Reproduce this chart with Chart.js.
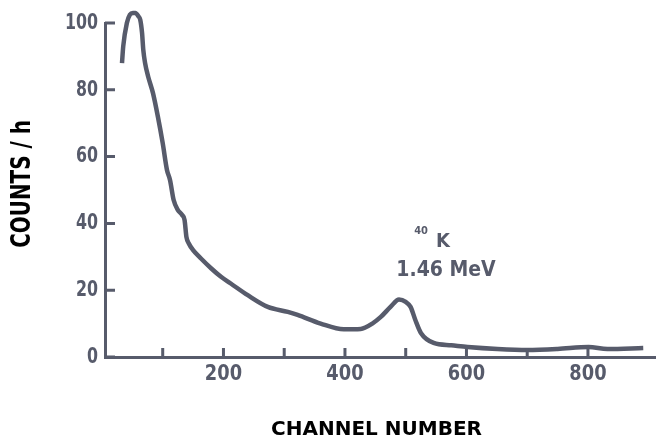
<!DOCTYPE html>
<html>
<head>
<meta charset="utf-8">
<script src="https://cdn.jsdelivr.net/npm/chart.js@4/dist/chart.umd.min.js"></script>
<style>
  html, body { margin: 0; padding: 0; background: #fff; }
  #wrap { width: 656px; height: 445px; position: relative; }
</style>
</head>
<body>
<div id="wrap"><canvas id="spectrum"></canvas></div>
<script>
// channel numbers and counts
const channels = [33, 35, 41, 46, 51, 55, 60, 63, 66, 68, 71, 76, 84, 92, 100, 107, 112, 118, 125, 132, 136, 139, 143, 150, 163, 180, 196, 212, 240, 273, 306, 322, 360, 398, 426, 445, 459, 475, 489, 500, 508, 516, 525, 546, 575, 602, 651, 700, 750, 801, 832, 891];
const counts   = [88, 93, 100, 102.5, 103, 103, 102, 101, 97, 92, 88, 84, 79, 72, 64, 56, 53, 47, 44, 42.5, 41, 36, 34, 32, 29.5, 26.5, 24, 22, 18.5, 15, 13.5, 12.6, 10, 8.3, 8.4, 10, 12, 15, 17.2, 16.5, 15, 11, 7.2, 4.2, 3.5, 3, 2.4, 2.1, 2.4, 3, 2.4, 2.7];

const xTicks = [100, 200, 300, 400, 500, 600, 700, 800];
const xTickLabels = ['', '200', '', '400', '', '600', '', '800'];
const yTicks = [0, 20, 40, 60, 80, 100];
const peakLabel = ['40', 'K', '1.46 MeV'];
const xTitle = 'CHANNEL NUMBER';
const yTitle = 'COUNTS / h';

const ink = '#575b6b';
const cond = "'DejaVu Sans Condensed', 'DejaVu Sans', sans-serif";
const wide = "'DejaVu Sans', sans-serif";

// squeezed text, the original lettering is narrower than any installed font
function narrowText(ctx, text, x, y, squeeze, angle) {
    ctx.save();
    ctx.translate(x, y);
    ctx.rotate(angle || 0);
    ctx.scale(squeeze, 1);
    ctx.fillText(text, 0, 0);
    ctx.restore();
}

// tick marks point into the plot, labels and titles drawn here too
const axisDecor = {
    id: 'axisDecor',
    afterDraw(chart) {
        const ctx = chart.ctx;
        const x = chart.scales.x, y = chart.scales.y;
        ctx.save();
        ctx.strokeStyle = ink;
        ctx.lineWidth = 3;
        ctx.beginPath();
        xTicks.forEach(v => {
            const px = x.getPixelForValue(v);
            ctx.moveTo(px, y.bottom);
            ctx.lineTo(px, y.bottom - 9);
        });
        yTicks.forEach(v => {
            const py = y.getPixelForValue(v);
            ctx.moveTo(x.left, py);
            ctx.lineTo(x.left + 10, py);
        });
        ctx.stroke();

        ctx.fillStyle = ink;
        ctx.textBaseline = 'middle';
        ctx.font = 'bold 22px ' + cond;
        ctx.textAlign = 'center';
        xTicks.forEach((v, i) => {
            if (xTickLabels[i]) narrowText(ctx, xTickLabels[i], x.getPixelForValue(v), y.bottom + 17, 0.9);
        });
        ctx.textAlign = 'right';
        yTicks.forEach(v => {
            narrowText(ctx, String(v), x.left - 7, y.getPixelForValue(v), 0.8);
        });

        // 40K annotation over the potassium peak
        const cx = x.getPixelForValue(489);
        const cy = y.getPixelForValue(17.2);
        ctx.textAlign = 'center';
        ctx.font = 'bold 11px ' + cond;
        ctx.fillText(peakLabel[0], cx + 22, cy - 68);
        ctx.font = 'bold 20px ' + cond;
        ctx.fillText(peakLabel[1], cx + 44, cy - 58);
        ctx.font = 'bold 21px ' + cond;
        ctx.fillText(peakLabel[2], cx + 47, cy - 29);

        // axis titles
        ctx.fillStyle = '#000';
        ctx.font = 'bold 20px ' + wide;
        ctx.fillText(xTitle, (x.left + x.right) / 2 - 4, 430);
        ctx.font = 'bold 27px ' + cond;
        narrowText(ctx, yTitle, 23, (y.top + y.bottom) / 2 - 6, 0.82, -Math.PI / 2);
        ctx.restore();
    }
};

new Chart(document.getElementById('spectrum'), {
    type: 'line',
    data: {
        datasets: [{
            data: channels.map((c, i) => ({ x: c, y: counts[i] })),
            borderColor: ink,
            borderWidth: 4.5,
            pointRadius: 0,
            fill: false,
            cubicInterpolationMode: 'monotone',
            clip: false
        }]
    },
    options: {
        responsive: true,
        maintainAspectRatio: false,
        animation: false,
        layout: { padding: { top: 23, right: 0, left: 0, bottom: 0 } },
        plugins: { legend: { display: false }, tooltip: { enabled: false } },
        scales: {
            x: {
                type: 'linear',
                min: 5,
                max: 912,
                afterBuildTicks: s => { s.ticks = xTicks.map(v => ({ value: v })); },
                afterFit: s => { s.height = 88; },
                grid: { display: true, drawOnChartArea: false, drawTicks: false },
                border: { display: true, color: ink, width: 3 },
                ticks: { display: false }
            },
            y: {
                min: 0,
                max: 100,
                afterBuildTicks: s => { s.ticks = yTicks.map(v => ({ value: v })); },
                afterFit: s => { s.width = 105; },
                grid: { display: true, drawOnChartArea: false, drawTicks: false },
                border: { display: true, color: ink, width: 3 },
                ticks: { display: false }
            }
        }
    },
    plugins: [axisDecor]
});
</script>
</body>
</html>
